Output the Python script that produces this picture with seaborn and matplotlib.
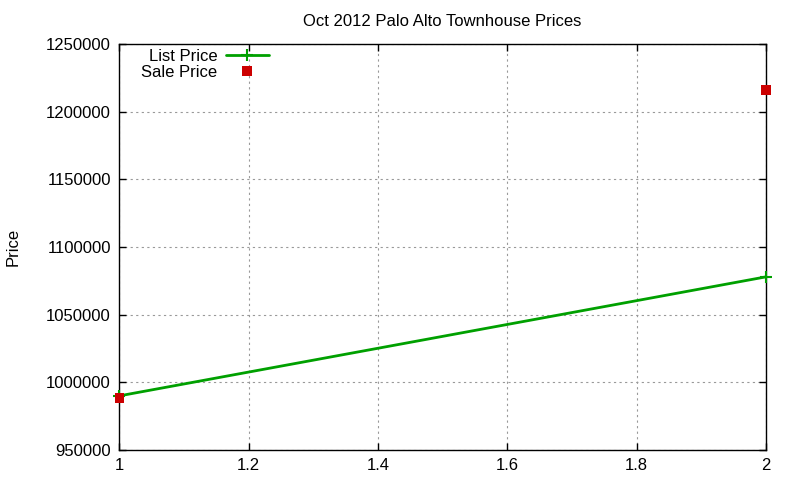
import matplotlib
matplotlib.use('Agg')
import matplotlib.pyplot as plt
from matplotlib.lines import Line2D
import pandas as pd
import seaborn as sns

# Data
x_vals = [1, 2]
list_price = [990000, 1078000]
sale_price = [988500, 1216000]

df = pd.DataFrame({'x': x_vals, 'list': list_price, 'sale': sale_price})

sns.set_style('white')
plt.rcParams['font.family'] = ['Liberation Sans', 'DejaVu Sans']
plt.rcParams['text.color'] = 'black'
plt.rcParams['axes.labelcolor'] = 'black'

fig = plt.figure(figsize=(8, 4.8), dpi=100)
ax = fig.add_axes([0.149, 0.0625, 0.8085, 0.8455])

green = '#00a000'
red = '#cc0000'

sns.lineplot(x='x', y='list', data=df, ax=ax, color=green, linewidth=2, legend=False)
sns.scatterplot(x='x', y='list', data=df, ax=ax, color=green, marker='+',
                s=80, linewidth=1.5, legend=False, zorder=3)
sns.scatterplot(x='x', y='sale', data=df, ax=ax, color=red, marker='s',
                s=45, edgecolor='none', legend=False, zorder=4)
for art in ax.lines + ax.collections:
    art.set_clip_on(False)

ax.set_xlim(1, 2)
ax.set_ylim(950000, 1250000)
ax.set_xticks([1, 1.2, 1.4, 1.6, 1.8, 2])
ax.set_xticklabels(['1', '1.2', '1.4', '1.6', '1.8', '2'])
ax.set_yticks(range(950000, 1250001, 50000))
ax.set_yticklabels([str(v) for v in range(950000, 1250001, 50000)])
ax.grid(True, color='#999999', linestyle=(0, (2, 3)), linewidth=0.8)
ax.tick_params(direction='in', length=5, width=1, labelsize=12, colors='black',
               top=True, right=True, left=True, bottom=True, pad=6)
for s in ax.spines.values():
    s.set_color('black')
    s.set_linewidth(1)

ax.set_xlabel('')
ax.set_ylabel('Price', fontsize=12)
ax.yaxis.set_label_coords(-0.153, 0.5)
ax.set_title('Oct 2012 Palo Alto Townhouse Prices', fontsize=12, pad=13)

handles = [
    Line2D([], [], color=green, linewidth=2, marker='+', markersize=9, markeredgewidth=1.5),
    Line2D([], [], color=red, linestyle='none', marker='s', markersize=6.5, markeredgewidth=0),
]
leg = ax.legend(handles, ['List Price', 'Sale Price'], loc='upper left',
                bbox_to_anchor=(0.016, 1.017), frameon=False, markerfirst=False,
                fontsize=12, handlelength=2.6, handletextpad=0.5,
                labelspacing=0.05, borderaxespad=0.3)
for t in leg.get_texts():
    t.set_ha('right')
leg._legend_box.align = 'right'

fig.savefig('out.png', dpi=100)
